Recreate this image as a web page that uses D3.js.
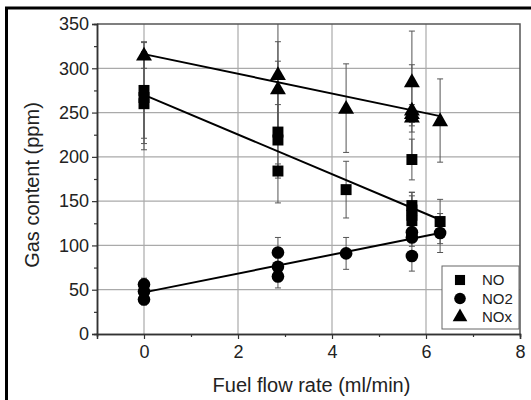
<!DOCTYPE html>
<html>
<head>
<meta charset="utf-8">
<script src="https://cdn.jsdelivr.net/npm/d3@7"></script>
<style>
  body { margin: 0; background: #fff; }
  text { font-family: "Liberation Sans", Arial, sans-serif; fill: #222; }
</style>
</head>
<body>
<div id="chart"></div>
<script>
// data
var noX   = [0, 0, 0, 2.85, 2.85, 2.85, 4.3, 5.7, 5.7, 5.7, 5.7, 5.7, 6.3];
var noY   = [275, 267, 260, 228, 219, 184, 163, 197, 145, 140, 134, 128, 127];
var noErr = [54, 52, 52, 80, 40, 8, 32, 23, 15, 20, 22, 18, 25];

var no2X   = [0, 0, 0, 2.85, 2.85, 2.85, 4.3, 5.7, 5.7, 5.7, 6.3];
var no2Y   = [56, 48, 39, 92, 76, 65, 91, 115, 109, 88, 114];
var no2Err = [7, 8, 6, 17, 10, 13, 18, 8, 10, 17, 22];

var noxX   = [0, 2.85, 2.85, 4.3, 5.7, 5.7, 5.7, 5.7, 6.3];
var noxY   = [315, 293, 277, 255, 285, 253, 249, 245, 241];
var noxErr = [15, 62, 53, 50, 57, 51, 10, 10, 47];

// linear fits
var fitX    = [0, 6.3];
var fitNO   = [270, 129];
var fitNO2  = [47, 114];
var fitNOx  = [316, 246];

var xTicks = [0, 2, 4, 6, 8];
var yTicks = [0, 50, 100, 150, 200, 250, 300, 350];
var seriesNames = ['NO', 'NO2', 'NOx'];

var WIDTH = 531, HEIGHT = 400;
var margin = {left: 97, right: 11, top: 24, bottom: 66};

var svg = d3.select('#chart').append('svg')
  .attr('width', WIDTH)
  .attr('height', HEIGHT);

svg.append('rect').attr('width', WIDTH).attr('height', HEIGHT).attr('fill', '#fff');

// outer frame (cropped at right and bottom)
svg.append('path')
  .attr('d', 'M' + WIDTH + ',8H6.5V' + HEIGHT)
  .attr('fill', 'none')
  .attr('stroke', '#000')
  .attr('stroke-width', 3);

var x = d3.scaleLinear().domain([-1, 8]).range([margin.left, WIDTH - margin.right]);
var y = d3.scaleLinear().domain([0, 350]).range([HEIGHT - margin.bottom, margin.top]);

// grid
svg.append('g').selectAll('line').data(xTicks.filter(function(d) { return d > -1 && d < 8; }))
  .enter().append('line')
    .attr('x1', function(d) { return x(d); })
    .attr('x2', function(d) { return x(d); })
    .attr('y1', y(0)).attr('y2', y(350))
    .attr('stroke', '#aaa').attr('stroke-width', 1.2);

svg.append('g').selectAll('line').data(yTicks.filter(function(d) { return d > 0 && d < 350; }))
  .enter().append('line')
    .attr('x1', x(-1)).attr('x2', x(8))
    .attr('y1', function(d) { return y(d); })
    .attr('y2', function(d) { return y(d); })
    .attr('stroke', '#aaa').attr('stroke-width', 1.2);

// top and right frame
svg.append('path')
  .attr('d', 'M' + x(-1) + ',' + y(350) + 'H' + x(8) + 'V' + y(0))
  .attr('fill', 'none')
  .attr('stroke', '#555')
  .attr('stroke-width', 1.5);

// axes
var xAxis = svg.append('g')
  .attr('transform', 'translate(0,' + y(0) + ')')
  .call(d3.axisBottom(x).tickValues(xTicks).tickSize(5).tickPadding(6).tickFormat(d3.format('d')));
svg.append('g')
  .attr('transform', 'translate(0,' + y(0) + ')')
  .call(d3.axisBottom(x).tickValues([1, 3, 5, 7]).tickSize(3).tickFormat(''));

var yAxis = svg.append('g')
  .attr('transform', 'translate(' + x(-1) + ',0)')
  .call(d3.axisLeft(y).tickValues(yTicks).tickSize(5).tickPadding(3));
svg.append('g')
  .attr('transform', 'translate(' + x(-1) + ',0)')
  .call(d3.axisLeft(y).tickValues([25, 75, 125, 175, 225, 275, 325]).tickSize(3).tickFormat(''));

svg.selectAll('.domain').attr('stroke', '#333').attr('stroke-width', 1.5);
svg.selectAll('.tick line').attr('stroke', '#333').attr('stroke-width', 1.2);
svg.selectAll('.tick text')
  .style('font-family', '"Liberation Sans", Arial, sans-serif')
  .style('font-size', '18px')
  .attr('fill', '#222');

// axis titles
svg.append('text')
  .attr('x', (x(-1) + x(8)) / 2 + 3)
  .attr('y', 392)
  .attr('text-anchor', 'middle')
  .style('font-size', '20px')
  .text('Fuel flow rate (ml/min)');

svg.append('text')
  .attr('transform', 'translate(39,' + ((y(0) + y(350)) / 2 + 6) + ') rotate(-90)')
  .attr('text-anchor', 'middle')
  .style('font-size', '20px')
  .text('Gas content (ppm)');

var plot = svg.append('g');
svg.append('clipPath').attr('id', 'clip').append('rect')
  .attr('x', x(-1)).attr('y', y(350))
  .attr('width', x(8) - x(-1)).attr('height', y(0) - y(350));

function zip(xs, ys, es) {
  return xs.map(function(d, i) { return {x: d, y: ys[i], e: es[i]}; });
}

var series = [
  {name: 'NO',  pts: zip(noX, noY, noErr),    sym: d3.symbolSquare,   size: 120, fit: fitNO},
  {name: 'NO2', pts: zip(no2X, no2Y, no2Err), sym: d3.symbolCircle,   size: 125, fit: fitNO2},
  {name: 'NOx', pts: zip(noxX, noxY, noxErr), sym: d3.symbolTriangle, size: 110, fit: fitNOx}
];

// error bars
var eb = plot.append('g').attr('clip-path', 'url(#clip)');
series.forEach(function(s) {
  var g = eb.selectAll(null).data(s.pts).enter().append('g')
    .attr('stroke', '#555').attr('stroke-width', 1);
  g.append('line')
    .attr('x1', function(d) { return x(d.x); }).attr('x2', function(d) { return x(d.x); })
    .attr('y1', function(d) { return y(d.y - d.e); }).attr('y2', function(d) { return y(d.y + d.e); });
  g.append('line')
    .attr('x1', function(d) { return x(d.x) - 3; }).attr('x2', function(d) { return x(d.x) + 3; })
    .attr('y1', function(d) { return y(d.y - d.e); }).attr('y2', function(d) { return y(d.y - d.e); });
  g.append('line')
    .attr('x1', function(d) { return x(d.x) - 3; }).attr('x2', function(d) { return x(d.x) + 3; })
    .attr('y1', function(d) { return y(d.y + d.e); }).attr('y2', function(d) { return y(d.y + d.e); });
});

// fit lines
var line = d3.line().x(function(d) { return x(d[0]); }).y(function(d) { return y(d[1]); });
series.forEach(function(s) {
  plot.append('path')
    .datum(fitX.map(function(d, i) { return [d, s.fit[i]]; }))
    .attr('d', line)
    .attr('fill', 'none')
    .attr('stroke', '#000')
    .attr('stroke-width', 2);
});

// markers
series.forEach(function(s) {
  var sym = d3.symbol().type(s.sym).size(s.size);
  plot.selectAll(null).data(s.pts).enter().append('path')
    .attr('d', sym)
    .attr('transform', function(d) {
      var dy = s.sym === d3.symbolTriangle ? 1 : 0;
      return 'translate(' + x(d.x) + ',' + (y(d.y) + dy) + ')';
    })
    .attr('fill', '#000');
});

// legend
var lg = svg.append('g').attr('transform', 'translate(442,266)');
lg.append('rect')
  .attr('width', 77).attr('height', 63)
  .attr('fill', '#fff').attr('stroke', '#666').attr('stroke-width', 1);
series.forEach(function(s, i) {
  lg.append('path')
    .attr('d', d3.symbol().type(s.sym).size(s.size * 0.85)())
    .attr('transform', 'translate(18,' + (14 + i * 18.5) + ')')
    .attr('fill', '#000');
  lg.append('text')
    .attr('x', 40)
    .attr('y', 19 + i * 18.5)
    .style('font-size', '15px')
    .text(seriesNames[i]);
});
</script>
</body>
</html>
